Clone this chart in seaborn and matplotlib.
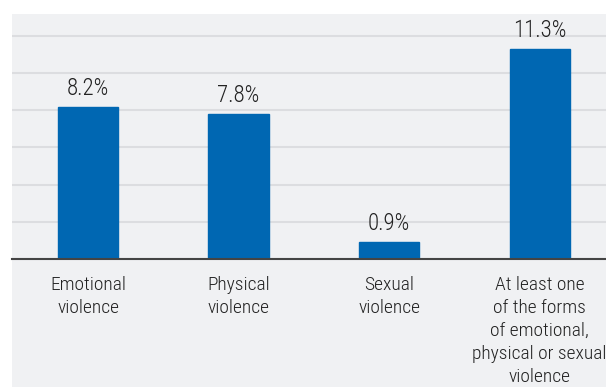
import matplotlib
matplotlib.use("Agg")
import matplotlib.pyplot as plt
import seaborn as sns
import pandas as pd
from matplotlib.patches import Rectangle

categories = ["Emotional\nviolence", "Physical\nviolence", "Sexual\nviolence",
              "At least one\nof the forms\nof emotional,\nphysical or sexual\nviolence"]
values = [8.2, 7.8, 0.9, 11.3]
value_labels = ["8.2%", "7.8%", "0.9%", "11.3%"]
yticks = [0, 2, 4, 6, 8, 10, 12]

sns.set_theme(style="white")
FONT = ["Roboto Condensed", "Archivo Narrow", "Liberation Sans Narrow", "DejaVu Sans"]
plt.rcParams['font.family'] = FONT
plt.rcParams['font.weight'] = 300

W, H = 606, 387
fig = plt.figure(figsize=(W / 100, H / 100), dpi=100)
fig.patch.set_facecolor("white")
panel_color = "#f0f1f3"
fig.patches.append(Rectangle((12 / W, 0), 1 - 12 / W, (H - 14) / H,
                             transform=fig.transFigure, facecolor=panel_color,
                             edgecolor="none", zorder=-10))

ax = fig.add_axes([12 / W, (H - 259) / H, (W - 12) / W, (259 - 14) / H])
ax.set_zorder(5)
ax.set_facecolor("none")

df = pd.DataFrame({"cat": categories, "val": values})
sns.barplot(data=df, x="cat", y="val", ax=ax, color="#0067b2", width=0.4,
            saturation=1, edgecolor="#0067b2", zorder=3)

ax.set_xlim(-0.505, 3.44)
ax.set_ylim(0, 13.18)
ax.set_yticks(yticks)
ax.yaxis.grid(True, color="#dcdde0", linewidth=1.5)
ax.set_axisbelow(True)
ax.tick_params(axis="y", left=False, labelleft=False)
ax.tick_params(axis="x", bottom=False, pad=6, labelsize=14, labelcolor="#222222")
for lab in ax.get_xticklabels():
    lab.set_linespacing(1.37)
    lab.set_va("top")
for s in ["left", "right", "top"]:
    ax.spines[s].set_visible(False)
ax.spines["bottom"].set_color("#444444")
ax.spines["bottom"].set_linewidth(1.5)
ax.spines["bottom"].set_zorder(5)
ax.set_xlabel("")
ax.set_ylabel("")

for i, (v, t) in enumerate(zip(values, value_labels)):
    ax.annotate(t, (i, v), xytext=(0, 5), textcoords="offset points",
                ha="center", va="bottom", fontsize=16.5, color="#222222")

fig.savefig("out.png", dpi=100, facecolor=fig.get_facecolor())
